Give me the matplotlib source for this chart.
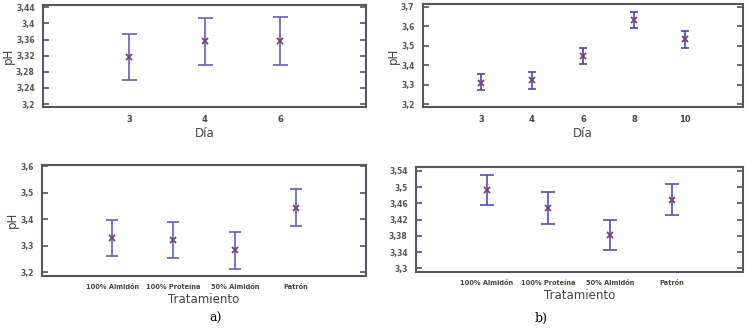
import numpy as np
import matplotlib.pyplot as plt

# pH por día (a) y (b)
dias_a = ["3", "4", "6"]
media_dia_a = [3.318, 3.356, 3.357]
lim_sup_dia_a = [3.375, 3.413, 3.415]
lim_inf_dia_a = [3.259, 3.297, 3.298]

dias_b = ["3", "4", "6", "8", "10"]
media_dia_b = [3.310, 3.321, 3.449, 3.631, 3.532]
lim_sup_dia_b = [3.353, 3.362, 3.489, 3.673, 3.573]
lim_inf_dia_b = [3.271, 3.279, 3.406, 3.589, 3.489]

# pH por tratamiento (a) y (b)
tratamientos = ["100% Almidón", "100% Proteína", "50% Almidón", "Patrón"]
media_trat_a = [3.330, 3.322, 3.282, 3.443]
lim_sup_trat_a = [3.397, 3.389, 3.351, 3.512]
lim_inf_trat_a = [3.262, 3.254, 3.213, 3.373]

media_trat_b = [3.493, 3.448, 3.382, 3.468]
lim_sup_trat_b = [3.530, 3.487, 3.419, 3.507]
lim_inf_trat_b = [3.455, 3.410, 3.345, 3.430]

yticks_dia_a = [3.2, 3.24, 3.28, 3.32, 3.36, 3.4, 3.44]
yticks_dia_b = [3.2, 3.3, 3.4, 3.5, 3.6, 3.7]
yticks_trat_a = [3.2, 3.3, 3.4, 3.5, 3.6]
yticks_trat_b = [3.3, 3.34, 3.38, 3.42, 3.46, 3.5, 3.54]


def coma(v):
    s = ("%.2f" % v).rstrip("0").rstrip(".")
    return s.replace(".", ",")


def panel(rect, cats, media, sup, inf, yticks, ylim, xlabel, ylabel,
          color, capsize, cat_font):
    ax = fig.add_axes(rect)
    x = np.arange(len(cats))
    media = np.array(media)
    err = [media - np.array(inf), np.array(sup) - media]
    ax.errorbar(x, media, yerr=err, fmt="none", ecolor=color,
                elinewidth=1.2, capsize=capsize, capthick=1.2)
    ax.plot(x, media, "x", color="#7a3f7a", ms=4, mew=1.3)
    ax.set_xlim(-1.14, len(cats) - 1 + 1.14)
    ax.set_ylim(*ylim)
    ax.set_yticks(yticks)
    ax.set_yticklabels([coma(v) for v in yticks], fontsize=5.5,
                       fontweight="bold", color="#555555")
    ax.set_xticks(x)
    ax.set_xticklabels(cats, fontsize=cat_font, fontweight="bold",
                       color="#444444")
    ax.tick_params(axis="y", direction="in", length=4, width=1.2,
                   color="#555555", right=True, pad=6)
    ax.tick_params(axis="x", length=0, pad=6)
    for s in ax.spines.values():
        s.set_color("#555566")
        s.set_linewidth(1.5)
    ax.set_xlabel(xlabel, fontsize=8.5, color="#444444", labelpad=2)
    if ylabel:
        ax.set_ylabel(ylabel, fontsize=8.5, color="#444444", labelpad=1)
    return ax


fig = plt.figure(figsize=(7.47, 3.28), dpi=100)

panel([0.0576, 0.674, 0.4324, 0.311], dias_a, media_dia_a, lim_sup_dia_a,
      lim_inf_dia_a, yticks_dia_a, (3.193, 3.446), "Día", "pH",
      "#6a5fb0", 5.4, 6)
panel([0.566, 0.674, 0.4288, 0.314], dias_b, media_dia_b, lim_sup_dia_b,
      lim_inf_dia_b, yticks_dia_b, (3.185, 3.714), "Día", "pH",
      "#4a46a8", 3.0, 6)
panel([0.0566, 0.1595, 0.4333, 0.3375], tratamientos, media_trat_a,
      lim_sup_trat_a, lim_inf_trat_a, yticks_trat_a, (3.187, 3.604),
      "Tratamiento", "pH", "#6a5fb0", 4.0, 4.8)
panel([0.5569, 0.1716, 0.4373, 0.320], tratamientos, media_trat_b,
      lim_sup_trat_b, lim_inf_trat_b, yticks_trat_b, (3.2917, 3.5498),
      "Tratamiento", None, "#5550b0", 5.0, 4.8)

fig.text(0.288, 0.03, "a)", fontsize=9, family="DejaVu Serif",
         ha="center", va="center")
fig.text(0.725, 0.03, "b)", fontsize=9, family="DejaVu Serif",
         ha="center", va="center")

fig.savefig("out.png", dpi=100)
